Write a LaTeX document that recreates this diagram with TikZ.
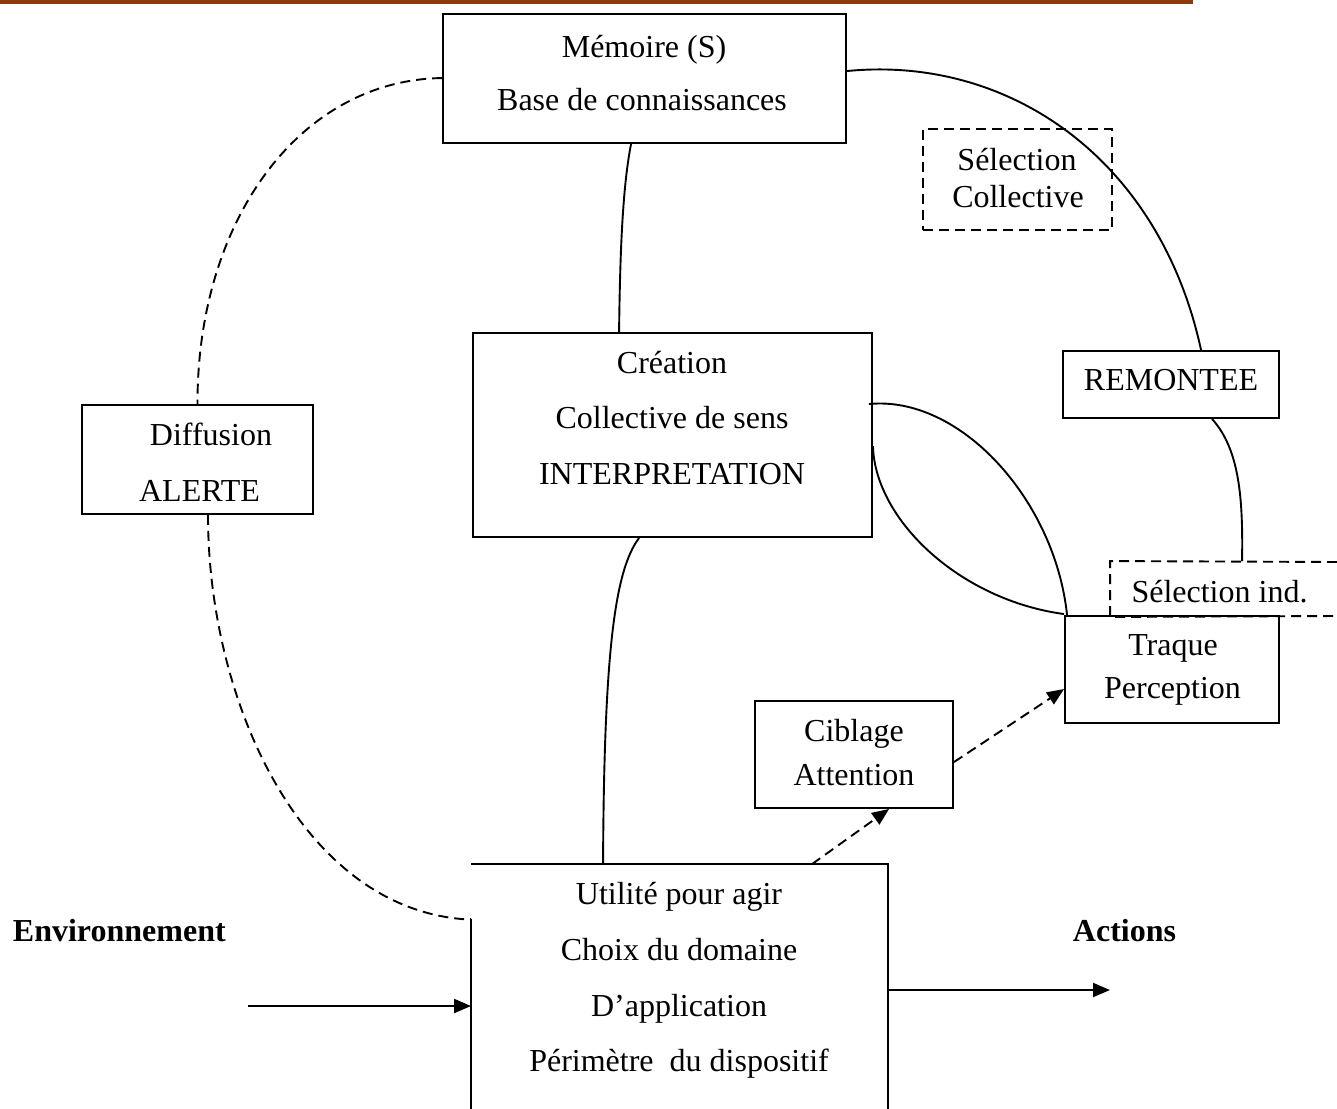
\documentclass[tikz,border=0pt]{standalone}
\usepackage{fontspec}
\setmainfont{Liberation Serif}
\usetikzlibrary{arrows.meta,calc}
\definecolor{barbrown}{RGB}{140,60,12}
\begin{document}
\begin{tikzpicture}[x=1pt,y=-1pt,
  line width=1.9pt,
  box/.style={draw,rectangle,inner sep=0pt},
  dbox/.style={box,dash pattern=on 10pt off 6pt},
  lbl/.style={inner sep=0pt,anchor=base,font=\fontsize{32}{38}\selectfont},
  blbl/.style={lbl,font=\fontsize{32}{38}\selectfont\bfseries},
  dline/.style={dash pattern=on 10pt off 6pt},
  tip/.style={-{Triangle[length=17pt,width=14pt]}}]
\useasboundingbox (0,0) rectangle (1337,1108);

% header rule
\fill[barbrown] (0,0) rectangle (1193,4);

% boxes
\node[box,minimum width=403pt,minimum height=129pt] (mem) at (644.5,78.5) {};
\node[dbox,minimum width=189pt,minimum height=101pt] (selc) at (1017.5,179.5) {};
\node[box,minimum width=399pt,minimum height=204pt] (crea) at (672.5,435) {};
\node[box,minimum width=216pt,minimum height=67pt] (remo) at (1171,384.5) {};
\node[box,minimum width=231pt,minimum height=109pt] (diff) at (197.5,459.5) {};
\node[box,minimum width=214pt,minimum height=107pt] (traq) at (1172,669.5) {};
\node[box,minimum width=198pt,minimum height=107pt] (cibl) at (854,754.5) {};
\node[inner sep=0pt,minimum width=234pt,minimum height=54pt] (seli) at (1228,589) {};
\node[inner sep=0pt,minimum width=415pt,minimum height=243pt] (util) at (679.5,986.5) {};

% open-ended frames
\draw[dline] (1337,562) -- (seli.north west) -- (seli.south west) -- (1337,616);
\draw ($(util.north west)+(0,55)$) -- (util.south west);
\draw (util.north west) -- (util.north east) -- (util.south east);

% texts
\node[lbl] (mem1) at (644,57) {Mémoire (S)};
\node[lbl] (mem2) at (642,110) {Base de connaissances};
\node[lbl] (selc1) at (1017,170) {Sélection};
\node[lbl] (selc2) at (1018,207) {Collective};
\node[lbl] (crea1) at (672,373) {Création};
\node[lbl] (crea2) at (672,428) {Collective de sens};
\node[lbl] (crea3) at (672,484) {INTERPRETATION};
\node[lbl] (remo1) at (1171,390) {REMONTEE};
\node[lbl] (diff1) at (211,445) {Diffusion};
\node[lbl] (diff2) at (199.5,501) {ALERTE};
\node[lbl] (seli1) at (1219.5,602) {Sélection ind.};
\node[lbl] (traq1) at (1173,655) {Traque};
\node[lbl] (traq2) at (1172.5,698) {Perception};
\node[lbl] (cibl1) at (854,741) {Ciblage};
\node[lbl] (cibl2) at (854,785) {Attention};
\node[lbl] (util1) at (679,904) {Utilité pour agir};
\node[lbl] (util2) at (679,960) {Choix du domaine};
\node[lbl] (util3) at (679,1016) {D’application};
\node[lbl] (util4) at (679,1071) {Périmètre\ \ du dispositif};
\node[blbl,anchor=base west] (env) at (12,941) {Environnement};
\node[blbl] (act) at (1124.5,941) {Actions};

% solid links
\draw ($(mem.south west)+(189,0)$) .. controls (622,190) and (620,260) .. ($(crea.north west)+(147,0)$);
\draw ($(crea.south west)+(167,0)$) .. controls (615,570) and (604,650) .. ($(util.north west)+(132,0)$);
\draw ($(mem.north east)+(0,58)$) .. controls (1010,55) and (1160,160) .. ($(remo.north west)+(139,0)$);
\draw ($(remo.south west)+(150,0)$) .. controls (1240,450) and (1243,500) .. ($(seli.north west)+(132,0)$);
\draw ($(crea.north east)+(-4,72)$) .. controls (960,395) and (1055,500) .. ($(traq.north west)+(3,0)$);
\draw ($(crea.north east)+(0,114)$) .. controls (875,520) and (960,600) .. ($(traq.north west)+(0,-1)$);

% dashed links
\draw[dline] ($(mem.north west)+(0,65)$) .. controls (300,80) and (197,220) .. (diff.north);
\draw[dline] ($(diff.south)+(10.5,0)$) .. controls (208,700) and (300,905) .. ($(util.north west)+(-9,55)$) -- ($(util.north west)+(0,55)$);
\draw[dline,tip] ($(util.north west)+(341,0)$) -- ($(cibl.south west)+(135,0)$);
\draw[dline,tip] ($(cibl.north east)+(0,62)$) -- ($(traq.north west)+(0,74)$);

% input and output
\coordinate (envin) at (248,1006);
\coordinate (actout) at (1110,990);
\draw[tip] (envin) -- (envin -| util.west);
\draw[tip] (actout -| util.east) -- (actout);
\end{tikzpicture}
\end{document}
